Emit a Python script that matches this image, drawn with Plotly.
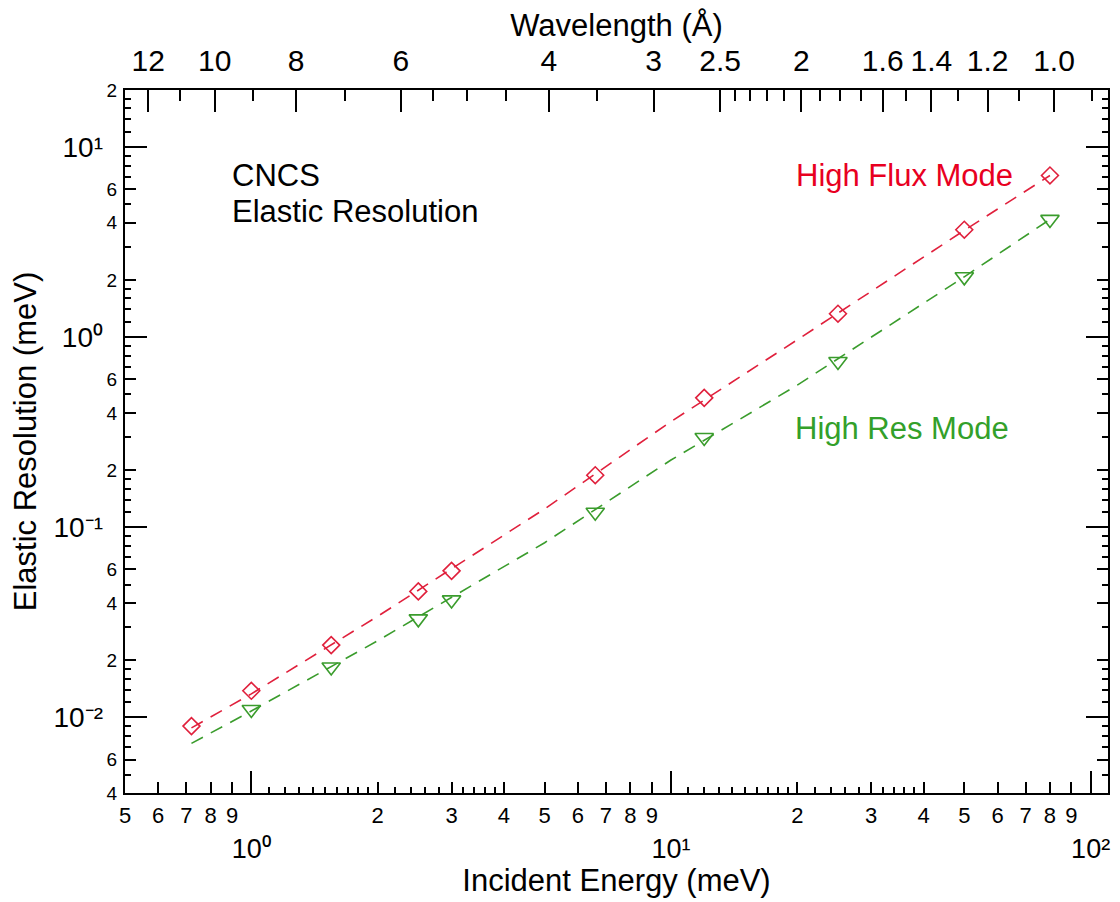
import plotly.graph_objects as go
import math

# ---------------- data ----------------
energy_flux = [0.72, 1.0, 1.55, 2.5, 3.0, 6.6, 12, 25, 50, 80]
res_flux = [0.0090, 0.0138, 0.024, 0.046, 0.059, 0.188, 0.48, 1.33, 3.68, 7.1]

energy_hres = [1.0, 1.55, 2.5, 3.0, 6.6, 12, 25, 50, 80]
res_hres = [0.0110, 0.0184, 0.033, 0.0415, 0.120, 0.297, 0.745, 2.08, 4.17]

fit_energy = [0.72, 1.0, 2.0, 5.0, 10, 20, 50, 80]
fit_flux = [0.0088, 0.0133, 0.034, 0.125, 0.36, 0.97, 3.65, 7.1]
fit_hres = [0.0073, 0.0108, 0.0253, 0.083, 0.226, 0.56, 2.08, 4.17]

# bottom axis (incident energy, meV)
x_range = [0.5, 110]
x_label_vals = [0.5, 0.6, 0.7, 0.8, 0.9, 2, 3, 4, 5, 6, 7, 8, 9, 20, 30, 40, 50, 60, 70, 80, 90]
x_label_text = ["5", "6", "7", "8", "9", "2", "3", "4", "5", "6", "7", "8", "9",
                "2", "3", "4", "5", "6", "7", "8", "9"]
x_minor_vals = [1.1, 1.2, 1.3, 1.4, 1.5, 1.6, 1.7, 1.8, 1.9, 2.2, 2.4, 2.6, 2.8,
                3.2, 3.4, 3.6, 3.8, 11, 12, 13, 14, 15, 16, 17, 18, 19,
                22, 24, 26, 28, 32, 34, 36, 38]
x_decade_vals = [1, 10, 100]
x_decade_text = ["10⁰", "10¹", "10²"]

# top axis (wavelength, Angstrom); E[meV] = 81.81 / lambda^2
lambda_const = 81.81
wl_major = [12, 10, 8, 6, 4, 3, 2.5, 2, 1.6, 1.4, 1.2, 1.0]
wl_major_text = ["12", "10", "8", "6", "4", "3", "2.5", "2", "1.6", "1.4", "1.2", "1.0"]
wl_minor = [11, 9, 7, 5.5, 5, 4.5, 3.5, 2.4, 2.3, 2.2, 2.1, 1.9, 1.8, 1.7, 1.5, 1.3, 1.1, 0.9]

# left axis (elastic resolution, meV)
y_range = [0.004, 20]
y_label_vals = [0.004, 0.006, 0.02, 0.04, 0.06, 0.2, 0.4, 0.6, 2, 4, 6, 20]
y_label_text = ["4", "6", "2", "4", "6", "2", "4", "6", "2", "4", "6", "2"]
y_minor_vals = [0.005, 0.007, 0.008, 0.009, 0.012, 0.014, 0.016, 0.018, 0.03, 0.05,
                0.07, 0.08, 0.09, 0.12, 0.14, 0.16, 0.18, 0.3, 0.5, 0.7, 0.8, 0.9,
                1.2, 1.4, 1.6, 1.8, 3, 5, 7, 8, 9, 12, 14, 16, 18]
y_decade_vals = [0.01, 0.1, 1, 10]
y_decade_text = ["10⁻²", "10⁻¹", "10⁰", "10¹"]

RED = "#e0203c"
RED_TXT = "#e8001f"
GREEN = "#3a9c2c"
GREEN_TXT = "#33a02a"
FONT = "Liberation Sans, Arial, Helvetica, sans-serif"

wl_major_E = [lambda_const / (w * w) for w in wl_major]
wl_minor_E = [lambda_const / (w * w) for w in wl_minor]
xr = [math.log10(x_range[0]), math.log10(x_range[1])]
yr = [math.log10(y_range[0]), math.log10(y_range[1])]

fig = go.Figure()
fig.add_trace(go.Scatter(x=fit_energy, y=fit_flux, mode="lines", xaxis="x", yaxis="y",
                         line=dict(color=RED, width=1.6, dash="13px,9px"), hoverinfo="skip"))
fig.add_trace(go.Scatter(x=fit_energy, y=fit_hres, mode="lines", xaxis="x2", yaxis="y",
                         line=dict(color=GREEN, width=1.6, dash="13px,9px"), hoverinfo="skip"))
fig.add_trace(go.Scatter(x=energy_flux, y=res_flux, mode="markers", name="High Flux Mode",
                         xaxis="x3", yaxis="y",
                         marker=dict(symbol="diamond-open", size=13, color=RED,
                                     line=dict(width=1.6, color=RED))))
fig.add_trace(go.Scatter(x=energy_hres, y=res_hres, mode="markers", name="High Res Mode",
                         xaxis="x", yaxis="y2",
                         marker=dict(symbol="triangle-down-open", size=16, color=GREEN,
                                     line=dict(width=1.6, color=GREEN))))

common = dict(showgrid=False, zeroline=False, tickcolor="black", tickwidth=2, automargin=False)

# page body has an 8px default margin: figure is sized/margined to compensate
fig.update_layout(
    width=1112, height=894,
    margin=dict(l=117, r=12, t=82, b=109),
    plot_bgcolor="white", paper_bgcolor="white",
    showlegend=False,
    font=dict(family=FONT, color="black"),
    xaxis=dict(type="log", range=xr, tickmode="array", tickvals=x_label_vals,
               ticktext=x_label_text, ticks="inside", ticklen=11,
               tickfont=dict(size=22), ticklabelstandoff=2,
               showline=True, linewidth=2, linecolor="black", mirror=True,
               minor=dict(tickmode="array", tickvals=x_minor_vals, ticks="inside",
                          ticklen=6, tickwidth=1.5, tickcolor="black", showgrid=False),
               title=dict(text="Incident Energy (meV)", font=dict(size=31), standoff=42),
               **common),
    xaxis3=dict(type="log", range=xr, overlaying="x", side="bottom", anchor="y",
                tickmode="array", tickvals=x_decade_vals, ticktext=x_decade_text,
                ticks="inside", ticklen=22, tickfont=dict(size=27),
                ticklabelstandoff=37, showline=False,
                **common),
    xaxis2=dict(type="log", range=xr, overlaying="x", side="top", anchor="y",
                tickmode="array", tickvals=wl_major_E, ticktext=wl_major_text,
                ticks="inside", ticklen=22, tickfont=dict(size=30), ticklabelstandoff=12,
                showline=False,
                minor=dict(tickmode="array", tickvals=wl_minor_E, ticks="inside",
                           ticklen=11, tickwidth=2, tickcolor="black", showgrid=False),
                title=dict(text="Wavelength (Å)", font=dict(size=31), standoff=9),
                **common),
    yaxis=dict(type="log", range=yr, tickmode="array", tickvals=y_label_vals,
               ticktext=y_label_text, ticks="inside", ticklen=11,
               tickfont=dict(size=19), ticklabelstandoff=2,
               showline=True, linewidth=2, linecolor="black", mirror="ticks",
               minor=dict(tickmode="array", tickvals=y_minor_vals, ticks="inside",
                          ticklen=6, tickwidth=1.5, tickcolor="black", showgrid=False),
               **common),
    yaxis2=dict(type="log", range=yr, overlaying="y", side="left", anchor="x",
                tickmode="array", tickvals=y_decade_vals, ticktext=y_decade_text,
                ticks="inside", ticklen=22, tickfont=dict(size=28),
                ticklabelstandoff=21, showline=False, mirror="ticks",
                title=dict(text="Elastic Resolution (meV)", font=dict(size=31), standoff=8),
                **common),
)

fig.add_annotation(text="CNCS", xref="paper", yref="paper", x=0.1069, y=0.8777,
                   xanchor="left", yanchor="middle", showarrow=False,
                   font=dict(size=31, color="black"))
fig.add_annotation(text="Elastic Resolution", xref="paper", yref="paper", x=0.1069, y=0.8265,
                   xanchor="left", yanchor="middle", showarrow=False,
                   font=dict(size=31, color="black"))
fig.add_annotation(text="High Flux Mode", xref="paper", yref="paper", x=0.9053, y=0.8777,
                   xanchor="right", yanchor="middle", showarrow=False,
                   font=dict(size=31, color=RED_TXT))
fig.add_annotation(text="High Res Mode", xref="paper", yref="paper", x=0.9013, y=0.5178,
                   xanchor="right", yanchor="middle", showarrow=False,
                   font=dict(size=31, color=GREEN_TXT))

fig.write_html("out.html")
